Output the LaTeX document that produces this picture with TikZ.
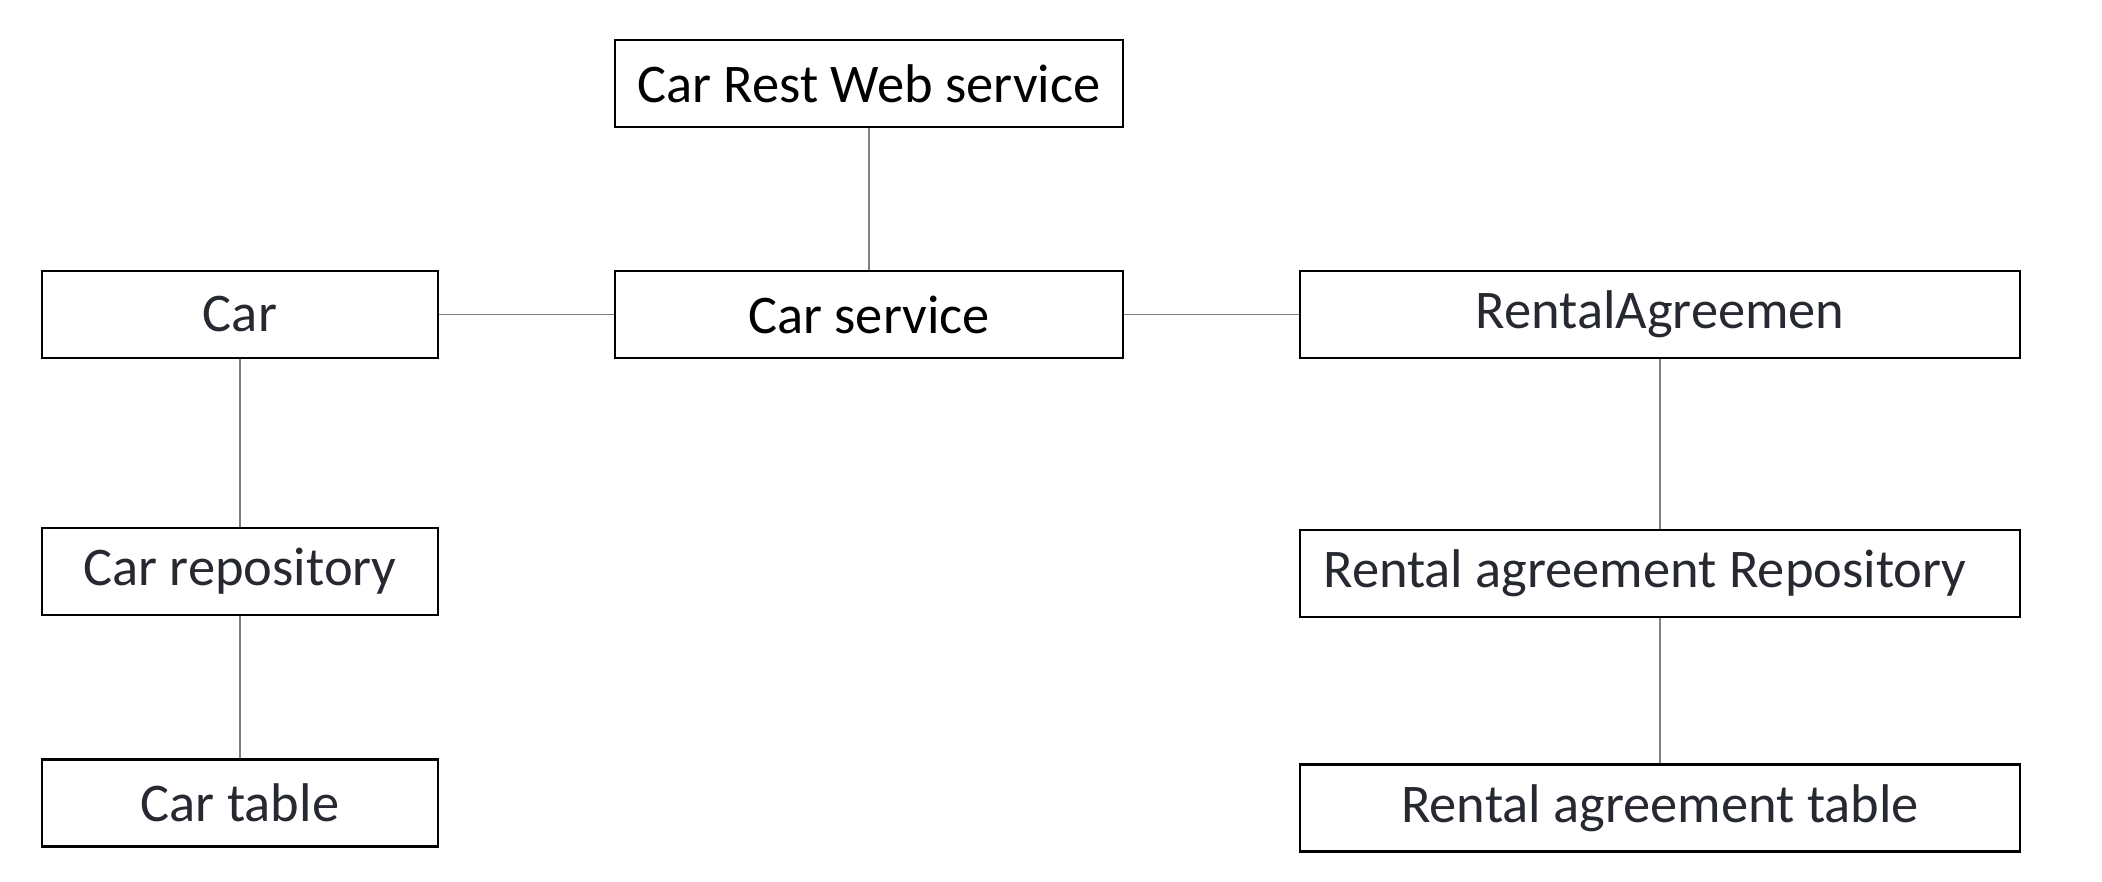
\documentclass[tikz,border=0pt]{standalone}
\usepackage{fontspec}
\setmainfont{Carlito}
\definecolor{txtdark}{HTML}{262930}
\definecolor{linkgray}{HTML}{808080}
\begin{document}
\begin{tikzpicture}[x=0.02cm,y=-0.02cm,
  box/.style={draw=black,line width=1.2pt,minimum width=396*0.02cm,minimum height=87*0.02cm,inner sep=0pt,font=\fontsize{31}{34}\selectfont,text=txtdark},
  widebox/.style={box,minimum width=720*0.02cm},
  midbox/.style={box,minimum width=508*0.02cm,text=black},
  link/.style={draw=linkgray,line width=0.6pt}]
\useasboundingbox (0,0) rectangle (2102,882);
\node[midbox] (rest) at (869,83.5) {Car Rest Web service};
\node[midbox] (csvc) at (869,314.5) {Car service};
\node[box] (car) at (240,314.5) {Car};
\node[widebox] (ra) at (1660,314.5) {RentalAgreemen};
\node[box] (crepo) at (240,571.5) {Car repository};
\node[widebox] (rarepo) at (1660,573.5) {};
\node[anchor=west,inner sep=0pt,font=\fontsize{31}{34}\selectfont,text=txtdark] (rarepotext) at (1323,573.5) {Rental agreement Repository};
\node[box] (ctable) at (240,803) {Car table};
\node[widebox] (ratable) at (1660,808) {Rental agreement table};
\draw[link] (rest) -- (csvc);
\draw[link] (car) -- (csvc);
\draw[link] (csvc) -- (ra);
\draw[link] (car) -- (crepo);
\draw[link] (crepo) -- (ctable);
\draw[link] (ra) -- (rarepo);
\draw[link] (rarepo) -- (ratable);
\end{tikzpicture}
\end{document}
